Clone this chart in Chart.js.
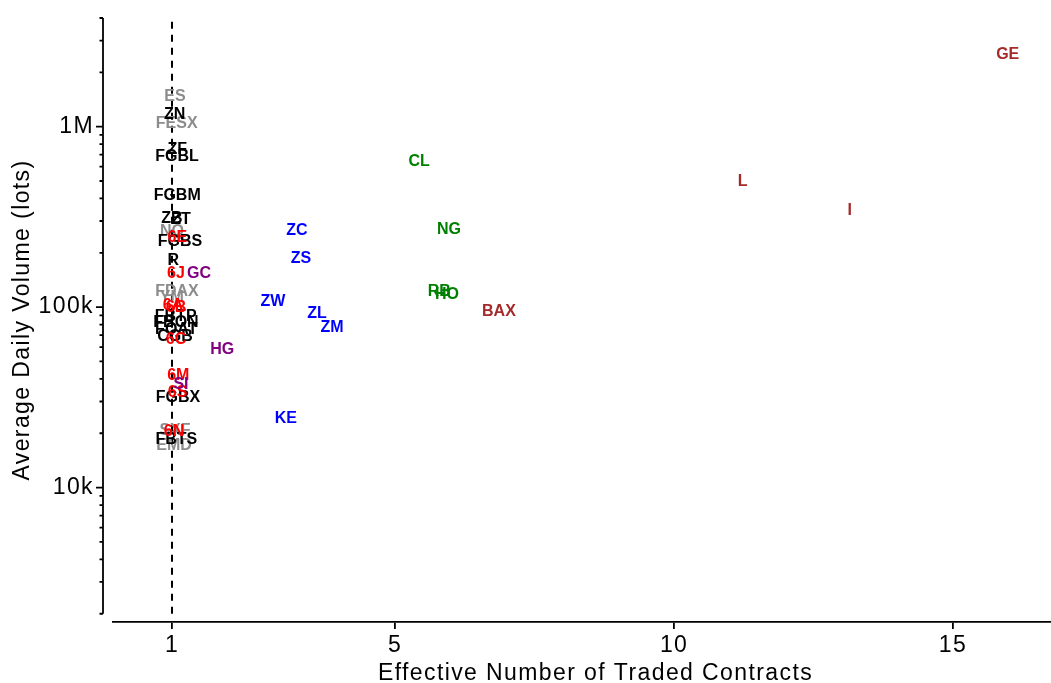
<!DOCTYPE html>
<html>
<head>
<meta charset="utf-8">
<script src="https://cdn.jsdelivr.net/npm/chart.js@4/dist/chart.umd.min.js"></script>
<style>
  html, body { margin: 0; padding: 0; background: #fff; overflow: hidden; }
</style>
</head>
<body>
<canvas id="chart" width="1079" height="683"></canvas>
<script>
// Contract codes with their effective number of traded contracts and average daily volume
const contracts = [
  'ES', 'FESX', 'NQ', 'FDAX', 'YM', 'SXF', 'EMD',
  'ZN', 'ZF', 'FGBL', 'FGBM', 'ZB', 'ZT', 'FGBS', 'R', 'FBTP', 'FBON', 'FOAT', 'CGB', 'FGBX', 'FBTS',
  '6E', '6J', '6A', '6B', '6C', '6M', '6S', '6N',
  'GC', 'HG', 'SI',
  'ZC', 'ZS', 'ZW', 'ZL', 'ZM', 'KE',
  'CL', 'NG', 'RB', 'HO',
  'GE', 'L', 'I', 'BAX'
];
const effNumber = [
  1.054, 1.084, 1.0, 1.09, 0.995, 1.054, 1.036,
  1.048, 1.095, 1.09, 1.093, 1.0, 1.16, 1.143, 1.023, 1.066, 1.072, 1.077, 1.054, 1.108, 1.077,
  1.095, 1.072, 1.018, 1.072, 1.072, 1.113, 1.099, 1.036,
  1.484, 1.90, 1.161,
  3.24, 3.31, 2.81, 3.60, 3.87, 3.04,
  5.43, 5.965, 5.79, 5.93,
  15.98, 11.23, 13.15, 6.86
];
const avgVolume = [
  1465000, 1043000, 263000, 122600, 112500, 20650, 17060,
  1169000, 743000, 683000, 415700, 310000, 306000, 229500, 181800, 88600, 81600, 74900, 68900, 31500, 18400,
  243500, 152700, 102600, 100000, 65700, 41600, 33400, 20500,
  152700, 57900, 37400,
  266000, 186000, 107000, 91500, 77500, 24100,
  641000, 270000, 122000, 118000,
  2500000, 497000, 344000, 95000
];
const sectors = [
  'equity', 'equity', 'equity', 'equity', 'equity', 'equity', 'equity',
  'rates', 'rates', 'rates', 'rates', 'rates', 'rates', 'rates', 'rates', 'rates', 'rates', 'rates', 'rates', 'rates', 'rates',
  'fx', 'fx', 'fx', 'fx', 'fx', 'fx', 'fx', 'fx',
  'metals', 'metals', 'metals',
  'ags', 'ags', 'ags', 'ags', 'ags', 'ags',
  'energy', 'energy', 'energy', 'energy',
  'stir', 'stir', 'stir', 'stir'
];

// Axis ticks
const xTicks = [1, 5, 10, 15];
const yMajorTicks = [10000, 100000, 1000000];
const yMajorLabels = ['10k', '100k', '1M'];
const yMinorTicks = [
  2000, 3000, 4000, 5000, 6000, 7000, 8000, 9000,
  20000, 30000, 40000, 50000, 60000, 70000, 80000, 90000,
  200000, 300000, 400000, 500000, 600000, 700000, 800000, 900000,
  2000000, 3000000, 4000000
];
const yAxisFrom = 2000;
const yAxisTo = 4000000;
const refLineX = 1;

const sectorColors = {
  equity: '#8c8c8c',
  rates: '#000000',
  fx: '#ff0000',
  metals: '#800080',
  ags: '#0000ff',
  energy: '#008000',
  stir: '#a52a2a'
};

const axisFont = { family: '"Liberation Sans", Arial, sans-serif', size: 23 };

// Slightly wider text for the axis labels
const spacing = {
  id: 'spacing',
  beforeDraw(chart) {
    chart.ctx.letterSpacing = '1.4px';
  }
};

// y axis drawn a little away from the plot area, with minor log ticks
const offsetAxis = {
  id: 'offsetAxis',
  afterDraw(chart) {
    const { ctx, chartArea, scales: { y } } = chart;
    const x0 = chartArea.left - 10;
    ctx.save();
    ctx.strokeStyle = '#000';
    ctx.lineWidth = 1.8;
    ctx.beginPath();
    ctx.moveTo(x0, y.getPixelForValue(yAxisFrom));
    ctx.lineTo(x0, y.getPixelForValue(yAxisTo));
    yMajorTicks.forEach(v => {
      const p = y.getPixelForValue(v);
      ctx.moveTo(x0, p);
      ctx.lineTo(x0 - 7, p);
    });
    yMinorTicks.forEach(v => {
      const p = y.getPixelForValue(v);
      ctx.moveTo(x0, p);
      ctx.lineTo(x0 - 3.5, p);
    });
    ctx.stroke();
    ctx.restore();
  }
};

// Draw each contract code at its point
const textLabels = {
  id: 'textLabels',
  afterDatasetsDraw(chart) {
    const ctx = chart.ctx;
    const meta = chart.getDatasetMeta(0);
    ctx.save();
    ctx.letterSpacing = '0px';
    ctx.font = 'bold 16px "Liberation Sans", Arial, sans-serif';
    ctx.textAlign = 'center';
    ctx.textBaseline = 'middle';
    meta.data.forEach((pt, i) => {
      ctx.fillStyle = sectorColors[sectors[i]];
      ctx.fillText(contracts[i], pt.x, pt.y);
    });
    ctx.restore();
  }
};

const ctx = document.getElementById('chart').getContext('2d');
new Chart(ctx, {
  type: 'scatter',
  data: {
    datasets: [
      {
        label: 'Contracts',
        data: contracts.map((c, i) => ({ x: effNumber[i], y: avgVolume[i] })),
        pointRadius: 0,
        pointHoverRadius: 0
      },
      {
        type: 'line',
        label: 'One contract',
        data: [{ x: refLineX, y: yAxisFrom }, { x: refLineX, y: yAxisTo }],
        borderColor: '#000',
        borderWidth: 2,
        borderDash: [7, 6],
        pointRadius: 0,
        fill: false
      }
    ]
  },
  options: {
    responsive: false,
    animation: false,
    devicePixelRatio: 1,
    layout: { padding: { top: 18, right: 1, left: 0, bottom: 0 } },
    plugins: {
      legend: { display: false },
      tooltip: { enabled: false }
    },
    scales: {
      x: {
        type: 'linear',
        min: -0.0575,
        max: 17.24,
        afterBuildTicks: scale => { scale.ticks = xTicks.map(v => ({ value: v })); },
        afterFit: scale => { scale.height = 61; scale.paddingLeft = 0; scale.paddingRight = 0; },
        ticks: { font: axisFont, color: '#000', padding: 3, maxRotation: 0, callback: v => String(v) },
        grid: { drawOnChartArea: false, drawTicks: true, tickLength: 7, color: '#000', lineWidth: 1.8 },
        border: { display: true, color: '#000', width: 1.8 },
        title: {
          display: true,
          text: 'Effective Number of Traded Contracts',
          color: '#000',
          font: { family: axisFont.family, size: 23, lineHeight: 0.84 },
          padding: 0
        }
      },
      y: {
        type: 'logarithmic',
        min: 1800,
        max: 4000000,
        afterBuildTicks: scale => { scale.ticks = yMajorTicks.map(v => ({ value: v, major: true })); },
        afterFit: scale => { scale.width = 113; scale.paddingTop = 0; scale.paddingBottom = 0; },
        ticks: { font: axisFont, color: '#000', padding: 19, callback: (v, i) => yMajorLabels[i] },
        grid: { display: false, drawTicks: false },
        border: { display: false },
        title: {
          display: true,
          text: 'Average Daily Volume (lots)',
          color: '#000',
          font: { family: axisFont.family, size: 23, lineHeight: 1.2 },
          padding: { top: 9, bottom: 0 }
        }
      }
    }
  },
  plugins: [spacing, offsetAxis, textLabels]
});
</script>
</body>
</html>
